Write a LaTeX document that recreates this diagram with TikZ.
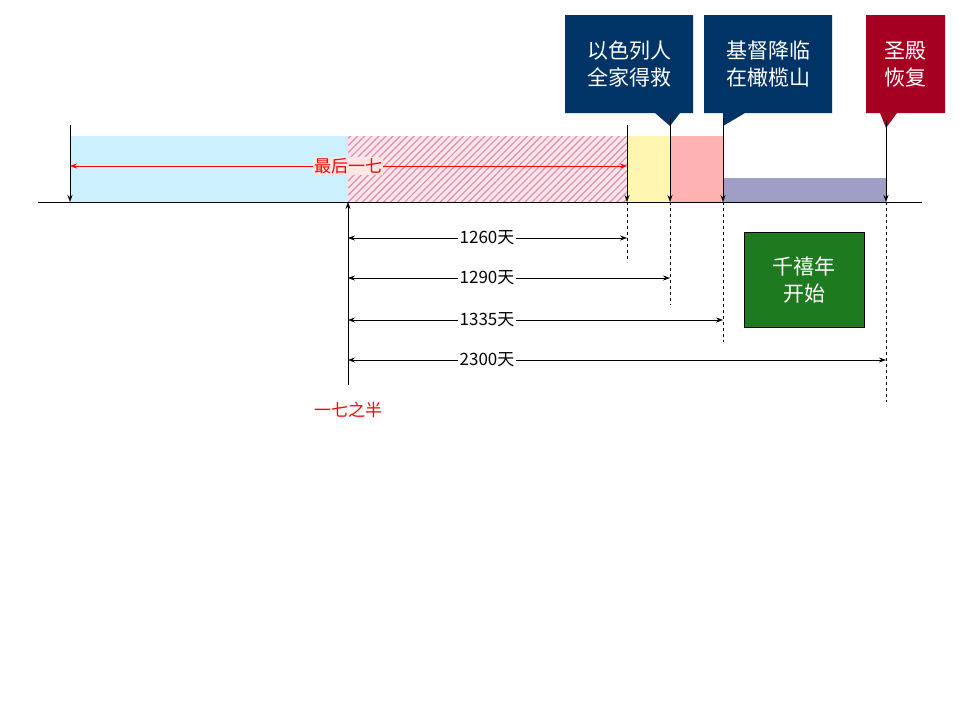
\documentclass[tikz,border=0pt]{standalone}
\usepackage{fontspec}
\setmainfont{Liberation Sans}
\newfontfamily\cjk{Noto Sans CJK SC}
\usetikzlibrary{patterns.meta,arrows.meta}
\definecolor{navy}{HTML}{003366}
\definecolor{wine}{HTML}{A50021}
\definecolor{grn}{HTML}{1E7A1E}
\begin{document}
\begin{tikzpicture}[x=1pt,y=-1pt,
  callout/.style={draw=black,line width=0.5pt,text=white,font=\cjk\fontsize{21}{27}\selectfont,align=center},
  tick/.style={-{Stealth[length=7pt,width=5pt]},line width=0.6pt},
  dim/.style={{Stealth[length=7pt,width=5pt]}-{Stealth[length=7pt,width=5pt]},line width=0.6pt},
  lab/.style={fill=white,inner sep=2pt,font=\cjk\fontsize{17}{20}\selectfont}]
\useasboundingbox (0,0) rectangle (960,720);
% bars
\fill[blue!30!cyan!20!white] (70,136) rectangle (348,202);
\fill[red!10] (348,136) rectangle (627,202);
\fill[pattern={Lines[angle=45,distance=5pt,line width=1.2pt]},pattern color=red!40!blue!25!pink] (348,136) rectangle (627,202);
\fill[orange!25!yellow!30!white] (627,136) rectangle (670,202);
\fill[red!30!white] (670,136) rectangle (723,202);
\fill[blue!25!gray!60!white] (723,178) rectangle (886,202);
% axis
\draw[line width=0.8pt] (38,202) -- (922,202);
% callouts
\fill[navy] (565,15) -- (693,15) -- (693,113) -- (680,113) -- (670,126) -- (655,113) -- (565,113) -- cycle;
\node[callout,draw=none] (c1) at (629,64) {以色列人\\全家得救};
\fill[navy] (704,15) -- (832,15) -- (832,113) -- (745,113) -- (723,126) -- (723,113) -- (704,113) -- cycle;
\node[callout,draw=none] (c2) at (768,64) {基督降临\\在橄榄山};
\fill[wine] (866,15) -- (945,15) -- (945,113) -- (897,113) -- (886,128) -- (880,113) -- (866,113) -- cycle;
\node[callout,draw=none] (c3) at (905,64) {圣殿\\恢复};
% coordinates
\coordinate (t0) at (70,125); \coordinate (b0) at (70,202);
\coordinate (t1) at (627,125); \coordinate (b1) at (627,202);
\coordinate (t2) at (670,118); \coordinate (b2) at (670,202);
\coordinate (t3) at (723,118); \coordinate (b3) at (723,202);
\coordinate (t4) at (886,120); \coordinate (b4) at (886,202);
\coordinate (m0) at (348,385); \coordinate (m1) at (348,202);
\draw[tick] (t0) -- (b0);
\draw[tick] (t1) -- (b1);
\draw[tick] (t2) -- (b2);
\draw[tick] (t3) -- (b3);
\draw[tick] (t4) -- (b4);
\draw[tick] (m0) -- (m1);
% dashed
\coordinate (d1) at (627,262); \coordinate (d2) at (670,305);
\coordinate (d3) at (723,342); \coordinate (d4) at (886,402);
\draw[dashed,line width=0.6pt] (b1) -- (d1);
\draw[dashed,line width=0.6pt] (b2) -- (d2);
\draw[dashed,line width=0.6pt] (b3) -- (d3);
\draw[dashed,line width=0.6pt] (b4) -- (d4);
% red span
\coordinate (r0) at (70,166); \coordinate (r1) at (627,166);
\draw[dim,red,line width=0.6pt] (r0) -- (r1);
\node[fill=red!10,inner sep=1pt,text=red,font=\cjk\fontsize{17}{20}\selectfont] (last) at (348,166) {最后一七};
% day spans
\foreach \y/\x/\t in {238/627/1260天,278/670/1290天,320/723/1335天,360/886/2300天}{
  \draw[dim] (348,\y) -- (\x,\y);
  \node[lab] at (487,\y) {\t};
}
\node[text=red,font=\cjk\fontsize{17}{20}\selectfont] (half) at (348,410) {一七之半};
% green box
\node[fill=grn,draw=black,line width=0.5pt,minimum width=120pt,minimum height=95pt,text=white,font=\cjk\fontsize{21}{27}\selectfont,align=center] (mil) at (804,280) {千禧年\\开始};
\end{tikzpicture}
\end{document}
